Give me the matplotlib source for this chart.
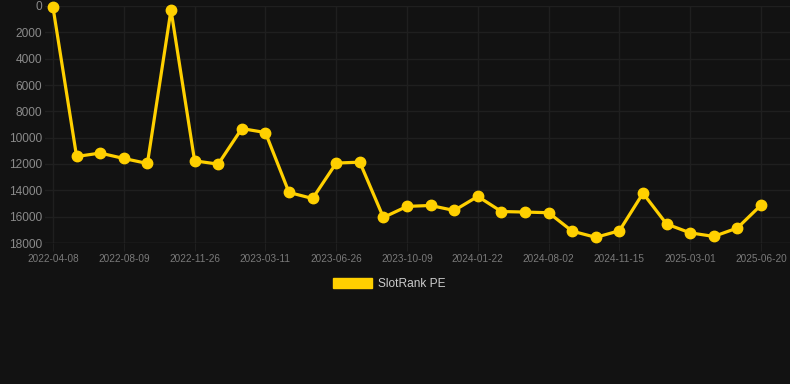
import matplotlib
matplotlib.use('Agg')
import matplotlib.pyplot as plt

# SlotRank PE over time (category axis, every 3rd date labelled)
ranks = [100, 11430, 11170, 11580, 11960, 300, 11760, 12010, 9310, 9610,
         14160, 14620, 11930, 11860, 16060, 15220, 15150, 15530, 14460, 15610,
         15650, 15700, 17100, 17570, 17070, 14220, 16560, 17230, 17500, 16860,
         15120]
tick_labels = ['2022-04-08', '2022-08-09', '2022-11-26', '2023-03-11', '2023-06-26',
               '2023-10-09', '2024-01-22', '2024-08-02', '2024-11-15', '2025-03-01',
               '2025-06-20']
y_ticks = [0, 2000, 4000, 6000, 8000, 10000, 12000, 14000, 16000, 18000]

bg = '#121212'
gold = '#FFD000'
grid = '#1f1f1f'

plt.rcParams['font.family'] = ['Liberation Sans', 'DejaVu Sans']

fig = plt.figure(figsize=(7.9, 3.84), dpi=100, facecolor=bg)
W, H = 790, 384
# axes spans pixel x 45..790, y 6..243
x0, x1, yt, yb = 45, 790, 6, 243
ax = fig.add_axes([x0 / W, 1 - yb / H, (x1 - x0) / W, (yb - yt) / H], facecolor=bg)

xs = list(range(len(ranks)))
step = 23.6
ax.set_xlim(-(53 - x0) / step, 30 + (x1 - 761) / step)
ax.set_ylim(18000, 0)

ax.plot(xs, ranks, color=gold, lw=2.3, marker='o', ms=7.5, mfc=gold, mec=gold,
        clip_on=False, zorder=3, label='SlotRank PE')

ax.set_xticks(xs[::3])
ax.set_xticklabels(tick_labels)
ax.set_yticks(y_ticks)
ax.grid(True, color=grid, lw=1)
for s in ax.spines.values():
    s.set_visible(False)
ax.axhline(18000, color='#2a2a2a', lw=1)
ax.tick_params(axis='y', length=0, pad=2, labelsize=8.6, labelcolor='#8a8a8a')
ax.tick_params(axis='x', length=6, color=grid, pad=2, labelsize=7.2, labelcolor='#7a7a7a')

leg = fig.legend(handles=[plt.Rectangle((0, 0), 1, 1, color=gold)], labels=['SlotRank PE'],
                 loc='center', bbox_to_anchor=(389 / W, 1 - 284 / H), frameon=False,
                 handlelength=3.3, handleheight=1.0, handletextpad=0.5, fontsize=8.6)
for t in leg.get_texts():
    t.set_color('#cccccc')

fig.savefig('out.png', dpi=100, facecolor=bg)
